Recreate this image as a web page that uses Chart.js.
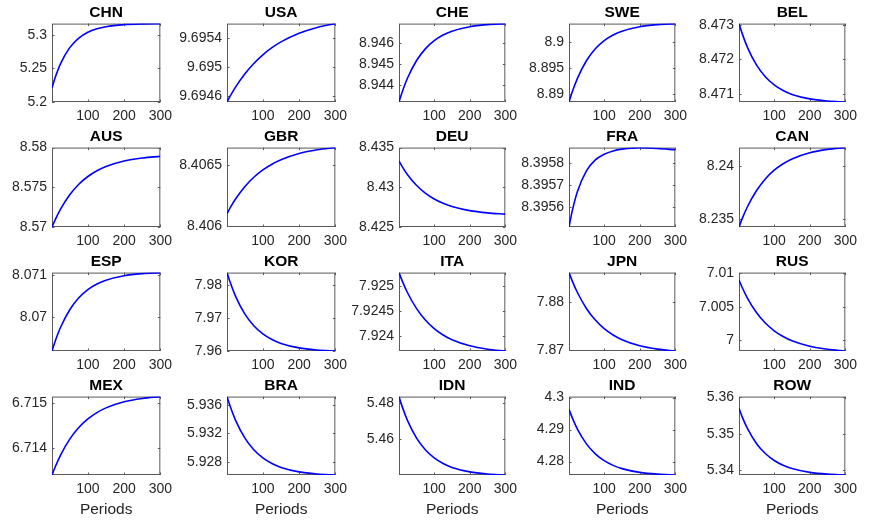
<!DOCTYPE html>
<html>
<head>
<meta charset="utf-8">
<script src="https://cdn.jsdelivr.net/npm/chart.js@4.4.0/dist/chart.umd.min.js"></script>
<style>
  body { margin: 0; background: #fff; }
  #panels { position: relative; width: 877px; height: 521px; overflow: hidden; }
  #panels canvas { position: absolute; }
</style>
</head>
<body>
<div id="panels"></div>
<script>
// periods at which each path is sampled
const periods = [1, 10, 25, 50, 75, 100, 125, 150, 200, 250, 300];
const xTicks = [100, 200, 300];

const countries = ['CHN', 'USA', 'CHE', 'SWE', 'BEL',
                   'AUS', 'GBR', 'DEU', 'FRA', 'CAN',
                   'ESP', 'KOR', 'ITA', 'JPN', 'RUS',
                   'MEX', 'BRA', 'IDN', 'IND', 'ROW'];

const CHN = [5.2210, 5.2368, 5.2577, 5.2811, 5.2953, 5.3040, 5.3092, 5.3124, 5.3154, 5.3166, 5.3170];
const USA = [9.694520, 9.694603, 9.694728, 9.694906, 9.695051, 9.695170, 9.695268, 9.695348, 9.695467, 9.695547, 9.695600];
const CHE = [8.943170, 8.943650, 8.944319, 8.945149, 8.945719, 8.946111, 8.946381, 8.946566, 8.946781, 8.946882, 8.946930];
const SWE = [8.88845, 8.89039, 8.89308, 8.89643, 8.89873, 8.90031, 8.90140, 8.90214, 8.90301, 8.90342, 8.90361];
const BEL = [8.473030, 8.472741, 8.472339, 8.471840, 8.471498, 8.471262, 8.471100, 8.470989, 8.470860, 8.470799, 8.470770];
const AUS = [8.57000, 8.57094, 8.57229, 8.57407, 8.57539, 8.57636, 8.57709, 8.57762, 8.57831, 8.57869, 8.57890];
const GBR = [8.406100, 8.406149, 8.406221, 8.406320, 8.406397, 8.406457, 8.406504, 8.406540, 8.406591, 8.406622, 8.406640];
const DEU = [8.43330, 8.43260, 8.43158, 8.43025, 8.42926, 8.42852, 8.42798, 8.42758, 8.42706, 8.42678, 8.42662];
const FRA = [8.39551, 8.395582, 8.395672, 8.395764, 8.395814, 8.39584, 8.395855, 8.395863, 8.39587, 8.395866, 8.39586];
const CAN = [8.23427, 8.23506, 8.23620, 8.23769, 8.23880, 8.23962, 8.24023, 8.24068, 8.24126, 8.24158, 8.24175];
const ESP = [8.069180, 8.069420, 8.069755, 8.070170, 8.070455, 8.070651, 8.070785, 8.070878, 8.070985, 8.071036, 8.071060];
const KOR = [7.98374, 7.98071, 7.97648, 7.97124, 7.96764, 7.96517, 7.96347, 7.96230, 7.96094, 7.96030, 7.96000];
const ITA = [7.925270, 7.925106, 7.924869, 7.924557, 7.924326, 7.924155, 7.924028, 7.923934, 7.923813, 7.923746, 7.923710];
const JPN = [7.88600, 7.88430, 7.88185, 7.87862, 7.87623, 7.87446, 7.87315, 7.87218, 7.87092, 7.87024, 7.86986];
const RUS = [7.00900, 7.00788, 7.00627, 7.00415, 7.00258, 7.00142, 7.00056, 6.99992, 6.99910, 6.99865, 6.99840];
const MEX = [6.713410, 6.713593, 6.713858, 6.714206, 6.714463, 6.714654, 6.714795, 6.714900, 6.715035, 6.715109, 6.715150];
const BRA = [5.93718, 5.93577, 5.93380, 5.93136, 5.92968, 5.92853, 5.92774, 5.92719, 5.92656, 5.92626, 5.92612];
const IDN = [5.48370, 5.47814, 5.47040, 5.46080, 5.45420, 5.44966, 5.44655, 5.44440, 5.44192, 5.44074, 5.44019];
const IND = [4.29635, 4.29373, 4.29008, 4.28555, 4.28244, 4.28030, 4.27883, 4.27782, 4.27665, 4.27609, 4.27583];
const ROW = [5.35697, 5.35463, 5.35136, 5.34731, 5.34453, 5.34262, 5.34130, 5.34040, 5.33935, 5.33885, 5.33862];

const paths = [CHN, USA, CHE, SWE, BEL, AUS, GBR, DEU, FRA, CAN,
               ESP, KOR, ITA, JPN, RUS, MEX, BRA, IDN, IND, ROW];

// y limits per panel, same order as countries
const yMin = [5.2, 9.69452, 8.94317, 8.88845, 8.47077,
              8.57, 8.40599, 8.425, 8.39551, 8.23427,
              8.06918, 7.96, 7.92371, 7.86986, 6.9984,
              6.71341, 5.92612, 5.44019, 4.27583, 5.33862];
const yMax = [5.317, 9.6956, 8.94693, 8.90361, 8.47303,
              8.58, 8.40664, 8.435, 8.39587, 8.24175,
              8.07106, 7.98374, 7.92527, 7.886, 7.0101,
              6.71515, 5.93718, 5.4837, 4.3003, 5.3602];
const yTicks = [
  [5.2, 5.25, 5.3], [9.6946, 9.695, 9.6954], [8.944, 8.945, 8.946], [8.89, 8.895, 8.9], [8.471, 8.472, 8.473],
  [8.57, 8.575, 8.58], [8.406, 8.4065], [8.425, 8.43, 8.435], [8.3956, 8.3957, 8.3958], [8.235, 8.24],
  [8.07, 8.071], [7.96, 7.97, 7.98], [7.924, 7.9245, 7.925], [7.87, 7.88], [7, 7.005, 7.01],
  [6.714, 6.715], [5.928, 5.932, 5.936], [5.46, 5.48], [4.28, 4.29, 4.3], [5.34, 5.35, 5.36]
];

// subplot geometry (plot-area edges in page pixels)
const colLeft = [52, 227, 399, 569, 739];
const colRight = [164, 339, 509, 679, 849];
const rowTop = [24, 148, 273, 397];
const rowBottom = [102, 227, 351, 475];

const FONT = 'Liberation Sans, Arial, Helvetica, sans-serif';
const TEXT = '#262626';
const ML = 60, MR = 14, MB = 45;
const TITLE_SIZE = 15.5;
const MT = TITLE_SIZE * 1.2 + 4;

// axes box with inward tick marks on all four sides
const boxFrame = {
  id: 'boxFrame',
  beforeDatasetsDraw(chart) {
    const { ctx, chartArea: a, scales: { x, y } } = chart;
    const t = 2.5;
    ctx.save();
    ctx.strokeStyle = '#5a5a5a';
    ctx.lineWidth = 1;
    ctx.strokeRect(a.left + 0.5, a.top + 0.5, a.width - 1, a.height - 1);
    ctx.beginPath();
    x.ticks.forEach(tk => {
      const px = Math.round(x.getPixelForValue(tk.value)) + 0.5;
      ctx.moveTo(px, a.bottom); ctx.lineTo(px, a.bottom - t);
      ctx.moveTo(px, a.top); ctx.lineTo(px, a.top + t);
    });
    y.ticks.forEach(tk => {
      const py = Math.round(y.getPixelForValue(tk.value)) + 0.5;
      ctx.moveTo(a.left, py); ctx.lineTo(a.left + t, py);
      ctx.moveTo(a.right, py); ctx.lineTo(a.right - t, py);
    });
    ctx.stroke();
    ctx.restore();
  }
};

const holder = document.getElementById('panels');

countries.forEach((name, i) => {
  const r = Math.floor(i / 5), c = i % 5;
  const plotW = colRight[c] - colLeft[c];
  const plotH = rowBottom[r] - rowTop[r];
  const top = Math.round(rowTop[r] - MT);

  const canvas = document.createElement('canvas');
  canvas.width = ML + plotW + MR;
  canvas.height = Math.round(MT + plotH + MB);
  canvas.style.left = (colLeft[c] - ML) + 'px';
  canvas.style.top = top + 'px';
  holder.appendChild(canvas);

  const values = paths[i];
  const ticks = yTicks[i];

  new Chart(canvas, {
    type: 'line',
    data: {
      datasets: [{
        data: periods.map((p, k) => ({ x: p, y: values[k] })),
        borderColor: '#0000ff',
        borderWidth: 1.6,
        pointRadius: 0,
        cubicInterpolationMode: 'monotone',
        fill: false
      }]
    },
    options: {
      responsive: false,
      animation: false,
      devicePixelRatio: 1,
      layout: { padding: { left: 0, right: MR, top: 0, bottom: 0 } },
      plugins: {
        legend: { display: false },
        tooltip: { enabled: false },
        title: {
          display: true,
          text: name,
          fullSize: false,
          color: '#000',
          font: { family: FONT, size: TITLE_SIZE, weight: 'bold' },
          padding: { top: 2, bottom: 2 }
        }
      },
      scales: {
        x: {
          type: 'linear',
          min: 1,
          max: 300,
          grid: { display: false, drawTicks: false },
          border: { display: false },
          ticks: {
            color: TEXT,
            font: { family: FONT, size: 14 },
            padding: 6,
            maxRotation: 0,
            autoSkip: false
          },
          afterBuildTicks: s => { s.ticks = xTicks.map(v => ({ value: v })); },
          afterFit: s => { s.height = MB; },
          title: {
            display: r === 3,
            text: 'Periods',
            color: TEXT,
            font: { family: FONT, size: TITLE_SIZE },
            padding: { top: 0, bottom: 1 }
          }
        },
        y: {
          min: yMin[i],
          max: yMax[i],
          grid: { display: false, drawTicks: false },
          border: { display: false },
          ticks: {
            color: TEXT,
            font: { family: FONT, size: 14 },
            padding: 5,
            callback: v => String(+Number(v).toFixed(6))
          },
          afterBuildTicks: s => { s.ticks = ticks.map(v => ({ value: v })); },
          afterFit: s => { s.width = ML; }
        }
      }
    },
    plugins: [boxFrame]
  });
});
</script>
</body>
</html>
